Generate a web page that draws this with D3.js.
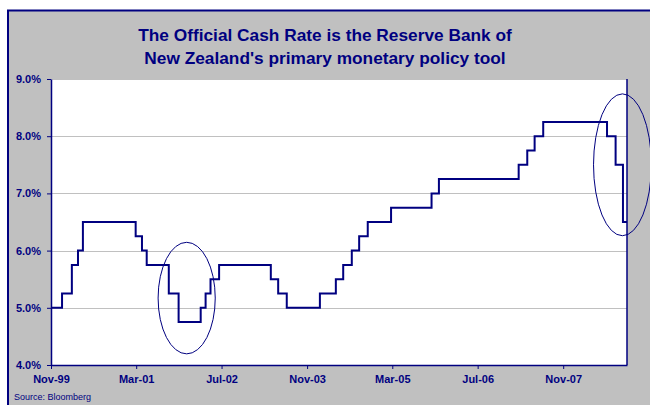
<!DOCTYPE html>
<html>
<head>
<meta charset="utf-8">
<script src="https://cdn.jsdelivr.net/npm/d3@7"></script>
<style>
  html, body { margin: 0; padding: 0; background: #ffffff; }
  svg { display: block; }
  text { font-family: "Liberation Sans", Arial, sans-serif; }
</style>
</head>
<body>
<svg id="chart" width="650" height="405"></svg>
<script>
// ---- Data ----
const titleLines = ["The Official Cash Rate is the Reserve Bank of",
                    "New Zealand's primary monetary policy tool"];
const changeDates = ["1999-11-17","2000-01-19","2000-03-15","2000-04-19","2000-05-17",
  "2001-03-14","2001-04-19","2001-05-16","2001-09-19","2001-11-14",
  "2002-03-20","2002-04-17","2002-05-15","2002-07-03",
  "2003-04-24","2003-06-05","2003-07-24",
  "2004-01-29","2004-04-29","2004-06-10","2004-07-29","2004-09-09","2004-10-28",
  "2005-03-10","2005-10-27","2005-12-08",
  "2007-03-08","2007-04-26","2007-06-07","2007-07-26",
  "2008-07-24","2008-09-11","2008-10-23","2008-11-15"];
const ocrValues = [5.00,5.25,5.75,6.00,6.50,
  6.25,6.00,5.75,5.25,4.75,
  5.00,5.25,5.50,5.75,
  5.50,5.25,5.00,
  5.25,5.50,5.75,6.00,6.25,6.50,
  6.75,7.00,7.25,
  7.50,7.75,8.00,8.25,
  8.00,7.50,6.50,6.50];
const xTickDates = ["1999-11-17","2001-03-17","2002-07-17","2003-11-17","2005-03-17","2006-07-17","2007-11-17"];
const yTicks = [4,5,6,7,8,9];
const sourceText = "Source: Bloomberg";
// highlighted periods (date, rate centre, half-widths in days / rate)
const highlightCentres = [{date:"2001-12-30", rate:5.17, dDays:163, dRate:0.975},
                          {date:"2008-10-20", rate:7.50, dDays:165, dRate:1.24}];

// ---- Drawing ----
const parse = d3.timeParse("%Y-%m-%d");
const navy = "#000080";
const svg = d3.select("#chart");

// background panel
svg.append("rect").attr("x", 8).attr("y", 10.5).attr("width", 660).attr("height", 420)
  .attr("fill", "#C0C0C0").attr("stroke", navy).attr("stroke-width", 2);

const plot = {left: 51, right: 627, top: 79, bottom: 365};

const x = d3.scaleTime()
  .domain([parse("1999-11-17"), parse("2008-11-15")])
  .range([plot.left, plot.right]);
const y = d3.scaleLinear().domain([4, 9]).range([plot.bottom, plot.top]);

// plot area
svg.append("rect").attr("x", plot.left).attr("y", plot.top)
  .attr("width", plot.right - plot.left).attr("height", plot.bottom - plot.top)
  .attr("fill", "#ffffff");

// gridlines
svg.append("g").selectAll("line").data(yTicks.filter(d => d > 4)).join("line")
  .attr("x1", plot.left).attr("x2", plot.right)
  .attr("y1", d => Math.round(y(d)) + 0.5).attr("y2", d => Math.round(y(d)) + 0.5)
  .attr("stroke", "#C0C0C0").attr("stroke-width", 1);

// right border of plot
svg.append("line").attr("x1", plot.right).attr("x2", plot.right)
  .attr("y1", plot.top).attr("y2", plot.bottom)
  .attr("stroke", navy).attr("stroke-width", 1.5);

// line
const data = changeDates.map((d, i) => ({date: parse(d), v: ocrValues[i]}));
const line = d3.line().x(d => x(d.date)).y(d => y(d.v)).curve(d3.curveStepAfter);
svg.append("path").datum(data).attr("d", line)
  .attr("fill", "none").attr("stroke", navy).attr("stroke-width", 2)
  .attr("stroke-linejoin", "miter");

// axes
const yAxis = d3.axisLeft(y).tickValues(yTicks).tickSize(4).tickSizeOuter(0)
  .tickFormat(d => d.toFixed(1) + "%");
const gy = svg.append("g").attr("transform", `translate(${plot.left},0)`).call(yAxis);
gy.select(".domain").attr("stroke", navy).attr("stroke-width", 1.5);
gy.selectAll(".tick line").attr("stroke", navy);
gy.selectAll(".tick text").attr("x", -10).attr("fill", navy)
  .style("font-size", "11px").style("font-weight", "bold")
  .style("font-family", "'Liberation Sans', Arial, sans-serif");

const xAxis = d3.axisBottom(x).tickValues(xTickDates.map(parse)).tickSize(4).tickSizeOuter(0)
  .tickFormat(d3.timeFormat("%b-%y"));
const gx = svg.append("g").attr("transform", `translate(0,${plot.bottom})`).call(xAxis);
gx.select(".domain").attr("stroke", navy).attr("stroke-width", 1.5);
gx.selectAll(".tick line").attr("stroke", navy);
gx.selectAll(".tick text").attr("y", 10).attr("fill", navy)
  .style("font-size", "11px").style("font-weight", "bold")
  .style("font-family", "'Liberation Sans', Arial, sans-serif");

// ellipses
svg.append("g").selectAll("ellipse").data(highlightCentres).join("ellipse")
  .attr("cx", d => x(parse(d.date)))
  .attr("cy", d => y(d.rate))
  .attr("rx", d => x(d3.timeDay.offset(parse(d.date), d.dDays)) - x(parse(d.date)))
  .attr("ry", d => y(d.rate - d.dRate) - y(d.rate))
  .attr("fill", "none").attr("stroke", navy).attr("stroke-width", 1);

// title
svg.append("g").selectAll("text").data(titleLines).join("text")
  .attr("x", 325).attr("y", (d, i) => 41 + i * 23)
  .attr("text-anchor", "middle").attr("fill", navy)
  .style("font-size", "17.3px").style("font-weight", "bold")
  .text(d => d);

// source
svg.append("text").attr("x", 14).attr("y", 400).attr("fill", navy)
  .style("font-size", "9px").text(sourceText);
</script>
</body>
</html>
